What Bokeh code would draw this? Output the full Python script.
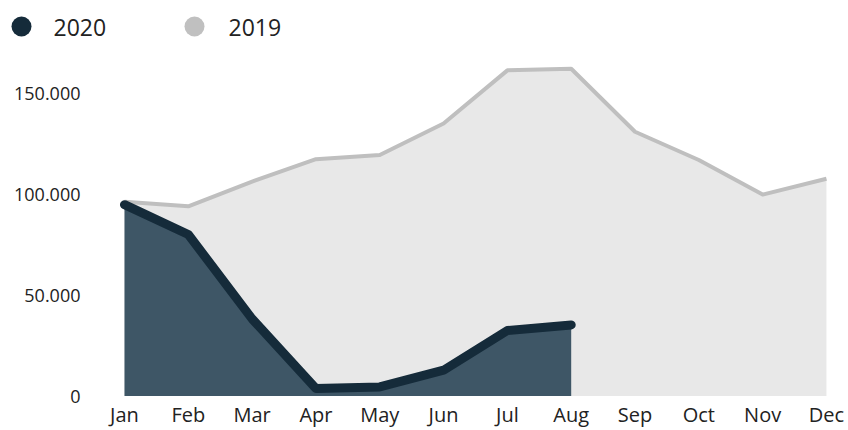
from bokeh.plotting import figure
from bokeh.models import Range1d, FixedTicker
from bokeh.layouts import column, row
from bokeh.core.properties import value
from bokeh.embed import file_html
from bokeh.resources import INLINE

months = ["Jan", "Feb", "Mar", "Apr", "May", "Jun", "Jul", "Aug", "Sep", "Oct", "Nov", "Dec"]
sales_2019 = [96400, 94200, 106500, 117600, 119700, 135300, 161700, 162500, 131200, 117200, 100000, 107900]
sales_2020 = [95000, 80200, 38300, 3700, 4500, 12800, 32500, 35300]
y_ticks = [0, 50000, 100000, 150000]
y_labels = ["0", "50.000", "100.000", "150.000"]
series_names = ["2020", "2019"]

C2020_LINE = "#152b3a"
C2020_FILL = "#3e5666"
C2019_LINE = "#bfbfbf"
C2019_FILL = "#e8e8e8"
C2019_DOT = "#c0c0c0"
FONT = "Open Sans"

x19 = list(range(len(sales_2019)))
x20 = list(range(len(sales_2020)))

# ---- legend strip (its own small figure, pixel coordinates) ----
leg = figure(width=848, height=52, output_backend="svg", toolbar_location=None, title=None,
             x_range=Range1d(0, 848), y_range=Range1d(52, 0),
             x_axis_location=None, y_axis_location=None,
             min_border_left=0, min_border_right=0, min_border_top=0, min_border_bottom=0,
             outline_line_color=None)
leg.grid.visible = False
leg.scatter(x=[21, 194], y=[26, 26], size=20, marker="circle",
            fill_color=[C2020_LINE, C2019_DOT], line_color=None)
leg.text(x=[53, 228], y=[27, 27], text=series_names, text_font=value(FONT),
         text_font_size="23px", text_color="#222222", text_baseline="alphabetic")

# ---- main chart ----
p = figure(width=848, height=378, output_backend="svg", toolbar_location=None, title=None,
           x_range=Range1d(-0.376, 11.22), y_range=Range1d(-247, 166590),
           min_border_left=100, min_border_right=8, min_border_top=8, min_border_bottom=33,
           outline_line_color=None)
p.grid.visible = False

p.varea(x=x19, y1=[0] * len(x19), y2=sales_2019, fill_color=C2019_FILL)
p.line(x=x19, y=sales_2019, line_color=C2019_LINE, line_width=4, line_join="round")
p.varea(x=x20, y1=[0] * len(x20), y2=sales_2020, fill_color=C2020_FILL)
p.line(x=x20, y=sales_2020, line_color=C2020_LINE, line_width=9,
       line_join="round", line_cap="round")

p.xaxis.ticker = FixedTicker(ticks=x19)
p.xaxis.major_label_overrides = {i: m for i, m in enumerate(months)}
p.yaxis.ticker = FixedTicker(ticks=y_ticks)
p.yaxis.major_label_overrides = {t: l for t, l in zip(y_ticks, y_labels)}
for ax in (p.xaxis, p.yaxis):
    ax.axis_line_color = None
    ax.major_tick_line_color = None
    ax.minor_tick_line_color = None
    ax.major_tick_out = 0
    ax.major_tick_in = 0
    ax.major_label_text_font = FONT
    ax.major_label_text_color = "#222222"
p.xaxis.major_label_text_font_size = "20px"
p.yaxis.major_label_text_font_size = "18px"
p.xaxis.major_label_standoff = 4
p.yaxis.major_label_standoff = 20

layout = column(row(leg), p, spacing=0)
open("out.html", "w").write(file_html(layout, INLINE))
